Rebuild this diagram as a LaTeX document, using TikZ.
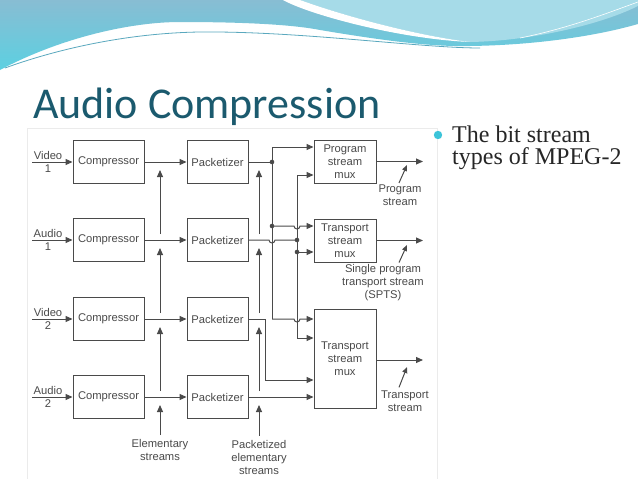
\documentclass[tikz,border=0pt]{standalone}
\usepackage{fontspec}
\setmainfont{Liberation Serif}
\newfontfamily\diafont{Liberation Sans}
\newfontfamily\titlefont{Carlito}
\usepackage{tikz}
\usetikzlibrary{arrows.meta}
\definecolor{wirec}{HTML}{4A4A4A}
\definecolor{titlec}{HTML}{1B5A6E}
\definecolor{skytop}{HTML}{88BDD3}
\definecolor{skybot}{HTML}{5CD0E1}
\definecolor{skylight}{HTML}{A6DBE8}
\definecolor{ribbonc}{HTML}{5AA8BE}
\definecolor{bulletc}{HTML}{3CC4D9}
\begin{document}
\begin{tikzpicture}[x=1pt,y=-1pt,
  every node/.style={font=\diafont\fontsize{11.2}{13}\selectfont,text=wirec,align=center,inner sep=0pt},
  blk/.style={draw=wirec,line width=0.9pt,minimum height=43pt,fill=white},
  ln/.style={draw=wirec,line width=1pt},
  arr/.style={ln,-{Triangle[length=7pt,width=6pt]}},
  ptr/.style={ln,-{Triangle[length=6pt,width=5pt]}}]
 \useasboundingbox (0,0) rectangle (638,479);
 \fill[white] (0,0) rectangle (638,479);
 \shade[top color=skytop,bottom color=skybot] (0,0) -- (638,0) -- (638,24) .. controls (600,35) and (540,45) .. (470,46) .. controls (430,47) and (380,40) .. (320,30) .. controls (300,26) and (260,22) .. (180,22) .. controls (130,22) and (60,38) .. (0,70) -- cycle;
 \fill[skylight] (300,0) -- (638,0) -- (638,6) .. controls (600,25) and (530,41) .. (470,42) .. controls (420,36) and (350,18) .. (300,0) -- cycle;
 \fill[white] (283,0) -- (300,0) .. controls (350,18) and (420,36) .. (470,42) .. controls (400,39) and (310,15) .. (283,0) -- cycle;
 \draw[white,line width=0.6] (520,38) .. controls (570,28) and (610,12) .. (638,2);
 \draw[ribbonc,line width=0.8] (5,68) .. controls (60,48) and (130,33) .. (200,32) .. controls (300,31) and (420,48) .. (480,48);
 \node[anchor=base west,font=\titlefont\fontsize{44}{48}\selectfont,text=titlec] (title) at (33,118) {Audio Compression};
 \draw[black!8] (27,128) rectangle (437,479);
 \fill[bulletc] (438,135) circle (4.2);
 \node[anchor=north west,font=\rmfamily\fontsize{24}{22}\selectfont,text=black!85,align=left] (bul) at (452,126) {The bit stream\\types of MPEG-2};
 \foreach \i/\kind/\num/\y in {1/Video/1/162,2/Audio/1/240,3/Video/2/319,4/Audio/2/397}{
   \node[blk,minimum width=71pt] (C\i) at (108.5,\y) {Compressor};
   \node[blk,minimum width=61pt] (P\i) at (217.5,\y) {Packetizer};
   \coordinate (in\i) at (32,\y);
   \node (k\i) at (48,\y-7) {\kind};
   \node (n\i) at (48,\y+7) {\num};
   \coordinate (e\i) at (160,\y+8); \coordinate (f\i) at (160,\y-6);
   \coordinate (g\i) at (259,\y+8); \coordinate (h\i) at (259,\y-6);
   \draw[arr] (in\i) -- (C\i);
   \draw[arr] (C\i) -- (P\i);
 }
 \node (ES) at (160,450) {Elementary\\streams};
 \node (PES) at (259,457) {Packetized\\elementary\\streams};
 \draw[arr] ([yshift=4pt]ES.north) -- (e4);
 \draw[arr] ([yshift=4pt]PES.north) -- (g4);
 \foreach \i/\j in {2/1,3/2,4/3} {\draw[arr] (f\i) -- (e\j); \draw[arr] (h\i) -- (g\j);}
 \node[blk,minimum width=62pt] (PS) at (345,161.5) {Program\\stream\\mux};
 \node[blk,minimum width=62pt] (TS) at (345,240.5) {Transport\\stream\\mux};
 \node[blk,minimum width=62pt,minimum height=99pt] (TM) at (345,359) {Transport\\stream\\mux};
 \coordinate (j1) at (272,162); \coordinate (j2) at (272,226);
 \coordinate (j3) at (297,240); \coordinate (j4) at (297,252);
 \coordinate (a1) at (272,147); \coordinate (a2) at (272,319);
 \coordinate (b1) at (297,175); \coordinate (b2) at (297,338);
 \coordinate (r1) at (265,319); \coordinate (r2) at (265,380);
 \draw[ln] (P1) -- (j1);
 \draw[arr] (a2) -- (a1) -- (a1 -| PS.west);
 \draw[arr] (b2) -- (b1) -- (b1 -| PS.west);
 \draw[arr] (j2) -- (294,226) arc[start angle=180,end angle=0,radius=3] -- (j2 -| TS.west);
 \draw[ln] (P2) -- (269,240) arc[start angle=180,end angle=0,radius=3] -- (j3);
 \draw[arr] (j4) -- (j4 -| TS.west);
 \draw[arr] (a2) -- (294,319) arc[start angle=180,end angle=0,radius=3] -- (a2 -| TM.west);
 \draw[arr] (b2) -- (b2 -| TM.west);
 \draw[arr] (P3) -- (r1) -- (r2) -- (r2 -| TM.west);
 \draw[arr] (P4) -- (P4 -| TM.west);
 \foreach \c in {j1,j2,j3,j4} \fill[wirec] (\c) circle (2.3);
 \coordinate (o1) at (423,161.5); \coordinate (o2) at (423,240.5); \coordinate (o3) at (423,360);
 \draw[arr] (PS) -- (o1);
 \draw[arr] (TS) -- (o2);
 \draw[arr] (TM.east |- o3) -- (o3);
 \node (lPS) at (400,195.5) {Program\\stream};
 \node (lSP) at (383,283) {Single program\\transport stream\\(SPTS)};
 \node (lTM) at (405,401) {Transport\\stream};
 \coordinate (t1) at (407,165); \coordinate (t2) at (407,245); \coordinate (t3) at (407,367);
 \draw[ptr] ([xshift=-1pt,yshift=2pt]lPS.north) -- (t1);
 \draw[ptr] ([xshift=16pt,yshift=2pt]lSP.north) -- (t2);
 \draw[ptr] ([xshift=-6pt,yshift=3pt]lTM.north) -- (t3);
\end{tikzpicture}
\end{document}
